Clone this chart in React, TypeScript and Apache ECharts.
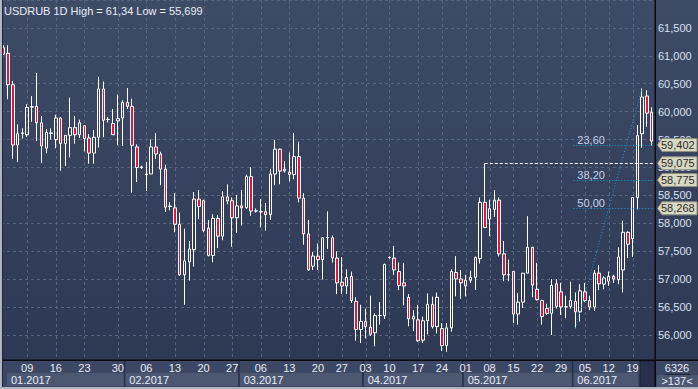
import React, { useEffect, useRef } from "react";
import * as echarts from "echarts";

// [open, close, low, high] per trading day, grouped by month
const janCandles = [
  [61.144, 61.029, 61.017, 61.19], [61.046, 60.481, 60.221, 61.19], [60.481, 59.403, 59.155, 60.55],
  [59.403, 59.604, 59.097, 59.772], [59.61, 59.62, 59.518, 59.702], [59.587, 60.077, 59.547, 60.135],
  [60.08, 60.09, 59.818, 60.279], [60.095, 59.8, 59.472, 60.694], [59.8, 59.385, 59.08, 59.922],
  [59.345, 59.627, 59.253, 59.691], [59.61, 59.62, 59.5, 59.702], [59.5, 59.887, 59.345, 59.945],
  [59.887, 59.431, 58.941, 59.904], [59.431, 59.576, 59.028, 59.58], [59.576, 59.714, 59.183, 60.25],
  [59.714, 59.587, 59.426, 59.922], [59.587, 59.8, 59.529, 59.858], [59.749, 59.518, 59.287, 59.755],
  [59.529, 59.258, 59.068, 59.599], [59.258, 59.541, 59.068, 59.674], [59.541, 60.406, 59.356, 60.625],
  [60.406, 59.847, 59.541, 60.539], [59.86, 59.864, 59.806, 59.9], [59.789, 59.587, 59.587, 60.048],
  [59.835, 59.875, 59.397, 60.308], [59.887, 60.164, 59.385, 60.204],
];
const febCandles = [
  [60.164, 60.095, 60.048, 60.423], [60.095, 59.397, 58.549, 60.233], [59.368, 59.0, 58.739, 59.414],
  [59.0, 59.01, 58.976, 59.033], [58.87, 58.884, 58.578, 59.097], [58.884, 59.368, 58.884, 59.5],
  [59.368, 59.241, 59.155, 59.616], [59.241, 58.97, 58.682, 59.281], [58.97, 58.289, 58.203, 59.051],
  [58.3, 58.31, 58.232, 58.376], [58.278, 57.984, 57.84, 58.538], [57.984, 57.078, 57.061, 58.191],
  [57.078, 57.326, 56.542, 57.903], [57.309, 57.54, 56.975, 57.684], [57.528, 58.434, 57.223, 58.561],
  [58.434, 58.301, 58.076, 58.595], [58.405, 57.874, 57.84, 58.422], [57.915, 57.424, 57.407, 58.059],
  [57.424, 58.088, 57.302, 58.163], [58.088, 57.77, 57.557, 58.146], [57.77, 58.474, 57.696, 58.578],
  [58.474, 58.399, 58.341, 58.699], [58.405, 58.099, 57.58, 58.462], [58.099, 58.312, 57.828, 58.509],
];
const marCandles = [
  [58.312, 58.278, 57.961, 58.595], [58.278, 58.837, 58.259, 58.872], [58.837, 58.22, 58.134, 59.01],
  [58.22, 58.225, 58.191, 58.266], [58.203, 58.21, 57.926, 58.434], [58.208, 58.157, 57.869, 58.364],
  [58.157, 58.883, 58.059, 58.976], [58.883, 59.328, 58.682, 59.495], [59.328, 58.935, 58.699, 59.339],
  [58.941, 58.97, 58.907, 59.114], [58.918, 58.876, 58.751, 59.27], [58.876, 59.195, 58.791, 59.616],
  [59.195, 58.451, 58.376, 59.46], [58.451, 57.811, 57.615, 58.538], [57.811, 57.165, 57.148, 58.059],
  [57.234, 57.413, 57.165, 57.488], [57.413, 57.349, 57.165, 57.638], [57.349, 57.742, 56.992, 57.742],
  [57.742, 57.745, 57.54, 58.214], [57.742, 57.378, 57.298, 57.782], [57.378, 56.934, 56.732, 57.499],
  [56.946, 56.877, 56.732, 57.396], [56.877, 57.032, 56.732, 57.176], [57.049, 56.617, 56.577, 57.136],
  [56.6, 56.098, 55.896, 56.675], [56.098, 56.242, 55.856, 56.542],
];
const aprCandles = [
  [56.242, 56.15, 55.937, 56.473], [56.138, 56.012, 55.983, 56.704], [56.04, 56.346, 55.798, 56.386],
  [56.346, 56.35, 56.185, 56.588], [56.346, 57.263, 56.288, 57.28], [57.384, 57.39, 57.367, 57.407],
  [57.378, 57.165, 57.078, 57.597], [57.136, 56.888, 56.802, 57.298], [56.934, 56.877, 56.531, 57.292],
  [56.675, 56.288, 56.156, 56.732], [56.288, 56.329, 56.069, 56.444], [56.271, 55.896, 55.879, 56.542],
  [55.908, 56.254, 55.856, 56.329], [56.254, 56.548, 56.012, 56.744], [56.548, 56.15, 56.115, 56.686],
  [56.15, 56.675, 56.029, 56.761], [56.115, 55.81, 55.712, 56.213], [55.81, 56.127, 55.699, 56.213],
  [56.127, 57.136, 56.058, 57.176], [57.119, 57.003, 56.692, 57.413], [57.003, 56.934, 56.646, 57.165],
];
const mayCandles = [
  [56.877, 56.98, 56.692, 57.078], [56.98, 57.032, 56.934, 57.153], [57.032, 57.384, 56.807, 57.407],
  [57.367, 58.376, 57.28, 58.463], [58.376, 57.926, 57.915, 59.075], [58.076, 58.261, 57.77, 58.422],
  [58.249, 58.416, 58.116, 58.595], [58.416, 57.453, 57.407, 58.463], [57.453, 57.078, 56.963, 57.684],
  [57.078, 57.08, 56.963, 57.349], [57.136, 56.375, 56.213, 57.136], [56.375, 56.588, 56.185, 56.75],
  [56.588, 57.107, 56.484, 57.107], [57.107, 57.569, 57.107, 58.128], [57.569, 56.894, 56.675, 57.58],
  [56.819, 56.634, 56.617, 57.292], [56.617, 56.329, 56.185, 56.634], [56.473, 56.386, 56.358, 56.559],
  [56.386, 56.888, 56.0, 57.003], [56.917, 56.513, 56.473, 57.003], [56.773, 56.502, 56.358, 56.934],
  [56.502, 56.505, 56.3, 56.704], [56.513, 56.617, 56.473, 56.952],
];
const junCandles = [
  [56.6, 56.415, 56.12, 56.762], [56.415, 56.79, 56.242, 56.911], [56.773, 56.617, 56.588, 56.934],
  [56.617, 56.502, 56.444, 56.704], [56.502, 57.107, 56.43, 57.165], [57.107, 56.917, 56.802, 57.251],
  [56.911, 57.021, 56.819, 57.05], [56.963, 57.05, 56.877, 57.136], [57.05, 57.003, 56.934, 57.078],
  [56.992, 57.396, 56.911, 57.569], [57.165, 57.84, 56.762, 58.047], [57.84, 57.626, 57.378, 57.856],
  [57.724, 58.463, 57.396, 58.463], [58.463, 59.57, 58.249, 59.76], [59.604, 60.262, 59.356, 60.416],
  [60.28, 59.973, 59.731, 60.383], [59.991, 59.472, 59.385, 60.077],
];

const mondayIdx = [5, 11, 17, 24, 30, 36, 42, 48, 54, 60, 66, 71, 76, 81, 87, 92, 97, 102, 107, 112, 117, 122, 127, 132];
const mondayLabels = ["09", "16", "23", "30", "06", "13", "20", "27", "06", "13", "20", "27", "03", "10", "17", "24", "01", "08", "15", "22", "29", "05", "12", "19"];
const monthStartIdx = [0, 26, 50, 76, 97, 120];
const monthLabels = ["01.2017", "02.2017", "03.2017", "04.2017", "05.2017", "06.2017"];

const fibLevels = [59.402, 58.775, 58.268];
const fibLabels = ["23,60", "38,20", "50,00"];
const fibStartIdx = 120;
const trendFrom = [120, 56.12];
const trendTo = [134, 60.416];
const hlineIdx = 101;
const hlineValue = 59.075;
const tagValues = [59.402, 59.075, 58.775, 58.268];
const titleText = "USDRUB 1D High = 61,34 Low = 55,699";
const barsInfo = ["6326", ">137<"];

const FONT_FAMILY = '"Liberation Sans Narrow", "Liberation Sans", Arial, sans-serif';
const FONT = `11px ${FONT_FAMILY}`;
const GRID_COLOR = "#57647f";
const FIB_COLOR = "#1f9bd8";

const candles = [...janCandles, ...febCandles, ...marCandles, ...aprCandles, ...mayCandles, ...junCandles];
const categories = candles.map((_, i) => String(i));
const labelMap: Record<number, string> = {};
mondayIdx.forEach((ix, k) => (labelMap[ix] = mondayLabels[k]));

const fmt = (v: number) => v.toFixed(3).replace(".", ",");

function text(x: number, y: number, t: string, fill: string, z: number, align = "left") {
  return {
    type: "text",
    x,
    y,
    z,
    silent: true,
    style: {
      text: t,
      fill,
      font: FONT,
      align,
      verticalAlign: "middle",
      textAlign: align,
      textVerticalAlign: "middle",
    },
  };
}

export default function App() {
  const ref = useRef<HTMLDivElement>(null);
  useEffect(() => {
    document.body.style.margin = "0";
    const chart = echarts.init(ref.current!, null, { renderer: "svg" });
    chart.setOption({
      animation: false,
      backgroundColor: "transparent",
      grid: { left: 1, right: 44, top: -12.8, bottom: 26.1 },
      xAxis: {
        type: "category",
        data: categories,
        boundaryGap: true,
        z: 110,
        axisLine: { show: false },
        axisTick: { show: false },
        splitLine: { show: false },
        axisLabel: {
          interval: 0,
          margin: 0,
          color: "#e8edf7",
          fontSize: 11,
          fontFamily: FONT_FAMILY,
          formatter: (_v: string, i: number) => labelMap[i] || "",
        },
      },
      yAxis: {
        type: "value",
        position: "right",
        min: 55.5,
        max: 62,
        interval: 0.5,
        axisLine: { show: false },
        axisTick: { show: false },
        splitLine: { show: true, lineStyle: { color: GRID_COLOR, type: [3, 3], width: 1 } },
        axisLabel: {
          margin: 4,
          color: "#d8e2f3",
          fontSize: 11,
          fontFamily: FONT_FAMILY,
          showMinLabel: false,
          showMaxLabel: false,
          formatter: (v: number) => fmt(v),
        },
      },
      series: [
        {
          type: "candlestick",
          data: candles,
          barWidth: 3,
          z: 2,
          itemStyle: {
            color: "rgba(0,0,0,0)",
            color0: "#e3173e",
            borderColor: "#ffffff",
            borderColor0: "#ffffff",
            borderWidth: 1,
          },
        },
      ],
    });

    const px = (i: number) => chart.convertToPixel({ xAxisIndex: 0 }, i) as number;
    const py = (v: number) => chart.convertToPixel({ yAxisIndex: 0 }, v) as number;
    const els: any[] = [];

    // vertical dashed grid lines at Mondays
    mondayIdx.forEach((i) => {
      const x = Math.round(px(i)) + 0.5;
      els.push({ type: "line", z: 1, silent: true, shape: { x1: x, y1: 0, x2: x, y2: 360 }, style: { stroke: GRID_COLOR, lineWidth: 1, lineDash: [3, 3] } });
    });

    // fibonacci levels
    const fx = px(fibStartIdx) - 2;
    fibLevels.forEach((lv, k) => {
      const y = Math.round(py(lv)) + 0.5;
      els.push({ type: "line", z: 3, silent: true, shape: { x1: fx, y1: y, x2: 655, y2: y }, style: { stroke: FIB_COLOR, lineWidth: 1, lineDash: [1, 2] } });
      els.push(text(fx + 4, y - 6, fibLabels[k], "#c3d4ee", 3));
    });
    // trend line
    els.push({
      type: "line", z: 3, silent: true,
      shape: { x1: px(trendFrom[0]), y1: py(trendFrom[1]), x2: px(trendTo[0]), y2: py(trendTo[1]) },
      style: { stroke: FIB_COLOR, lineWidth: 1, lineDash: [1, 2] },
    });
    // dashed white horizontal line
    const hy = Math.round(py(hlineValue)) + 0.5;
    els.push({ type: "line", z: 3, silent: true, shape: { x1: px(hlineIdx), y1: hy, x2: 655, y2: hy }, style: { stroke: "#ffffff", lineWidth: 1, lineDash: [3, 2] } });

    // bottom axis area
    els.push({ type: "rect", z: 100, silent: true, shape: { x: 0, y: 360, width: 698, height: 29 }, style: { fill: "#3c4863" } });
    monthStartIdx.forEach((si, k) => {
      const x0 = k === 0 ? 7 : px(si) - 2;
      const x1 = k < monthStartIdx.length - 1 ? px(monthStartIdx[k + 1]) - 3 : 638;
      els.push({ type: "rect", z: 101, silent: true, shape: { x: x0, y: 373, width: x1 - x0, height: 13 }, style: { fill: "#4c5872" } });
      if (k > 0) {
        els.push({ type: "rect", z: 102, silent: true, shape: { x: x0 - 1.5, y: 361, width: 1.5, height: 26 }, style: { fill: "#263049" } });
      }
      els.push(text(x0 + 4, 380, monthLabels[k], "#e8edf7", 103));
    });
    els.push({ type: "rect", z: 102, silent: true, shape: { x: 640, y: 361, width: 15, height: 26 }, style: { fill: "#26304a", stroke: "#1b2336", lineWidth: 1 } });
    els.push({ type: "rect", z: 102, silent: true, shape: { x: 657, y: 375, width: 41, height: 12 }, style: { fill: "#4c5872" } });
    els.push(text(677, 368, barsInfo[0], "#e8edf7", 103, "center"));
    els.push({ type: "line", z: 103, silent: true, shape: { x1: 665, y1: 374.5, x2: 690, y2: 374.5 }, style: { stroke: "#1d2435", lineWidth: 1 } });
    els.push(text(677, 381, barsInfo[1], "#e8edf7", 103, "center"));

    // black axis lines
    els.push({ type: "rect", z: 105, silent: true, shape: { x: 0, y: 359.5, width: 698, height: 1.5 }, style: { fill: "#080b12" } });
    els.push({ type: "rect", z: 105, silent: true, shape: { x: 654.5, y: 0, width: 1.5, height: 389 }, style: { fill: "#080b12" } });

    // price tags
    tagValues.forEach((v) => {
      const y = py(v);
      els.push({
        type: "polygon", z: 120, silent: true,
        shape: { points: [[657.5, y], [662, y - 6.5], [697, y - 6.5], [697, y + 6.5], [662, y + 6.5]] },
        style: { fill: "#d9d9c2", stroke: "#8f8f82", lineWidth: 1 },
      });
      els.push(text(661, y, fmt(v), "#2a2a2a", 121));
    });

    // title
    els.push(text(4, 11, titleText, "#e9eef7", 120));

    // outer frame
    els.push({ type: "rect", z: 130, silent: true, shape: { x: 0, y: 0, width: 2, height: 389 }, style: { fill: "#aeb6c4" } });
    els.push({ type: "rect", z: 130, silent: true, shape: { x: 0, y: 387, width: 698, height: 2 }, style: { fill: "#aeb6c4" } });
    els.push({ type: "rect", z: 130, silent: true, shape: { x: 2, y: 0, width: 1, height: 387 }, style: { fill: "#1f2638" } });

    chart.setOption({ graphic: { elements: els } });
    return () => chart.dispose();
  }, []);
  return (
    <div
      ref={ref}
      style={{
        position: "absolute",
        left: 0,
        top: 0,
        width: 698,
        height: 389,
        background: "linear-gradient(180deg, #3e4b67 0%, #2c3752 100%)",
      }}
    />
  );
}
